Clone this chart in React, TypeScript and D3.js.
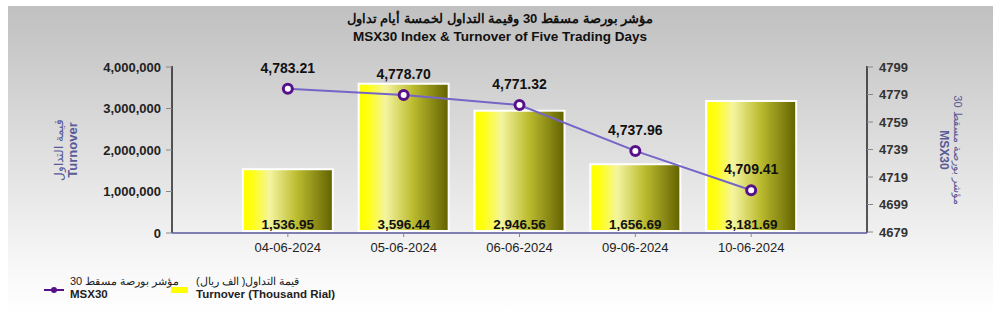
import React from "react";
import * as d3 from "d3";

const categories = ["04-06-2024", "05-06-2024", "06-06-2024", "09-06-2024", "10-06-2024"];
const turnover = [1536.95, 3596.44, 2946.56, 1656.69, 3181.69]; // thousand (shown), axis in units x1000
const msx30 = [4783.21, 4778.7, 4771.32, 4737.96, 4709.41];
const leftTicks = [0, 1000000, 2000000, 3000000, 4000000];
const rightTicks = [4679, 4699, 4719, 4739, 4759, 4779, 4799];

const W = 1000;
const H = 322;
const X0 = 172;
const X1 = 867;
const Y0 = 233;
const Y1 = 67;

export default function App() {
  const x = d3.scalePoint<string>().domain(categories).range([X0, X1]).padding(1);
  const yL = d3.scaleLinear().domain([0, 4000000]).range([Y0, Y1]);
  const yR = d3.scaleLinear().domain([4679, 4799]).range([Y0 - 1, Y1]);
  const fmt = d3.format(",");
  const fmt2 = d3.format(",.2f");
  const barW = 90;
  const line = d3
    .line<number>()
    .x((_, i) => x(categories[i])!)
    .y((d) => yR(d));
  const font = "Arial, 'Liberation Sans', sans-serif";
  const titleColor = "#5a5a96";

  return (
    <svg width={W} height={H} style={{ position: "absolute", left: 0, top: 0, fontFamily: font }}>
      <defs>
        <linearGradient id="bg" x1="0" y1="0" x2="0" y2="1">
          <stop offset="0" stopColor="#c0c0c0" />
          <stop offset="0.85" stopColor="#f8f8f8" />
          <stop offset="1" stopColor="#ffffff" />
        </linearGradient>
        <linearGradient id="bar" x1="0" y1="0" x2="1" y2="0">
          <stop offset="0" stopColor="#ffff00" />
          <stop offset="0.1" stopColor="#ffff10" />
          <stop offset="0.3" stopColor="#f4f4a0" />
          <stop offset="0.6" stopColor="#bcbc30" />
          <stop offset="1" stopColor="#626200" />
        </linearGradient>
      </defs>
      <rect x={0} y={0} width={W} height={H} fill="#fff" />
      <rect x={8} y={6} width={985} height={310} fill="url(#bg)" />

      {/* titles */}
      <text x={500} y={23} textAnchor="middle" fontSize={13} fontWeight="bold" fill="#111">
        مؤشر بورصة مسقط 30 وقيمة التداول لخمسة أيام تداول
      </text>
      <text x={500} y={41} textAnchor="middle" fontSize={13.5} fontWeight="bold" fill="#111">
        MSX30 Index &amp; Turnover of Five Trading Days
      </text>

      {/* bars */}
      {turnover.map((v, i) => {
        const cx = x(categories[i])!;
        const top = yL(v * 1000);
        return (
          <rect
            key={"b" + i}
            x={cx - barW / 2}
            y={top}
            width={barW}
            height={Y0 - 2 - top}
            fill="url(#bar)"
            stroke="#ffffff"
            strokeWidth={2}
          />
        );
      })}

      {/* left axis */}
      <line x1={X0} y1={Y1 - 1} x2={X0} y2={Y0} stroke="#222" strokeWidth={1.5} />
      {leftTicks.map((t) => (
        <g key={"l" + t}>
          <line x1={X0 - 6} x2={X0} y1={yL(t)} y2={yL(t)} stroke="#888" />
          <text x={X0 - 11} y={yL(t) + 4.5} textAnchor="end" fontSize={13} fontWeight="bold" fill="#222">
            {fmt(t)}
          </text>
        </g>
      ))}

      {/* right axis */}
      <line x1={X1} y1={Y1 - 1} x2={X1} y2={Y0} stroke="#222" strokeWidth={1.5} />
      {rightTicks.map((t) => (
        <g key={"r" + t}>
          <line x1={X1} x2={X1 + 6} y1={yR(t)} y2={yR(t)} stroke="#888" />
          <text x={X1 + 12} y={yR(t) + 4.5} textAnchor="start" fontSize={13} fontWeight="bold" fill="#333">
            {t}
          </text>
        </g>
      ))}

      {/* baseline */}
      <line x1={X0} x2={X1} y1={Y0} y2={Y0} stroke="#5a5aa0" strokeWidth={1.5} />
      {categories.map((c) => (
        <g key={"c" + c}>
          <line x1={x(c)!} x2={x(c)!} y1={Y0} y2={Y0 + 4} stroke="#888" />
          <text x={x(c)!} y={Y0 + 19} textAnchor="middle" fontSize={13} fill="#222">
            {c}
          </text>
        </g>
      ))}

      {/* bar labels */}
      {turnover.map((v, i) => (
        <text
          key={"bl" + i}
          x={x(categories[i])!}
          y={Y0 - 4}
          textAnchor="middle"
          fontSize={13.5}
          fontWeight="bold"
          fill="#111"
        >
          {fmt2(v)}
        </text>
      ))}

      {/* line */}
      <path d={line(msx30)!} fill="none" stroke="#7565c8" strokeWidth={2} />
      {msx30.map((v, i) => (
        <g key={"p" + i}>
          <circle cx={x(categories[i])!} cy={yR(v)} r={4.5} fill="#fff" stroke="#55108a" strokeWidth={3} />
          <text
            x={x(categories[i])!}
            y={yR(v) - 16}
            textAnchor="middle"
            fontSize={14}
            fontWeight="bold"
            fill="#111"
          >
            {fmt2(v)}
          </text>
        </g>
      ))}

      {/* axis titles */}
      <g transform={`translate(63,150) rotate(-90)`}>
        <text x={0} y={0} textAnchor="middle" fontSize={12} fill={titleColor}>
          قيمة التداول
        </text>
        <text x={0} y={14} textAnchor="middle" fontSize={13} fontWeight="bold" fill={titleColor}>
          Turnover
        </text>
      </g>
      <g transform={`translate(950,150) rotate(90)`}>
        <text x={0} y={-4} textAnchor="middle" fontSize={11} fill={titleColor}>
          مؤشر بورصة مسقط 30
        </text>
        <text x={0} y={10} textAnchor="middle" fontSize={12} fontWeight="bold" fill={titleColor}>
          MSX30
        </text>
      </g>

      {/* legend */}
      <line x1={44} x2={64} y1={290} y2={290} stroke="#55108a" strokeWidth={2} />
      <circle cx={54} cy={290} r={3} fill="#55108a" />
      <text x={70} y={285} fontSize={11} fill="#222">
        مؤشر بورصة مسقط 30
      </text>
      <text x={70} y={298} fontSize={11.5} fontWeight="bold" fill="#222">
        MSX30
      </text>
      <rect x={171} y={287} width={17} height={6} fill="#ffff00" />
      <text x={196} y={285} fontSize={11} fill="#222">
        قيمة التداول( الف ريال)
      </text>
      <text x={196} y={298} fontSize={11.5} fontWeight="bold" fill="#222">
        Turnover (Thousand Rial)
      </text>
    </svg>
  );
}
